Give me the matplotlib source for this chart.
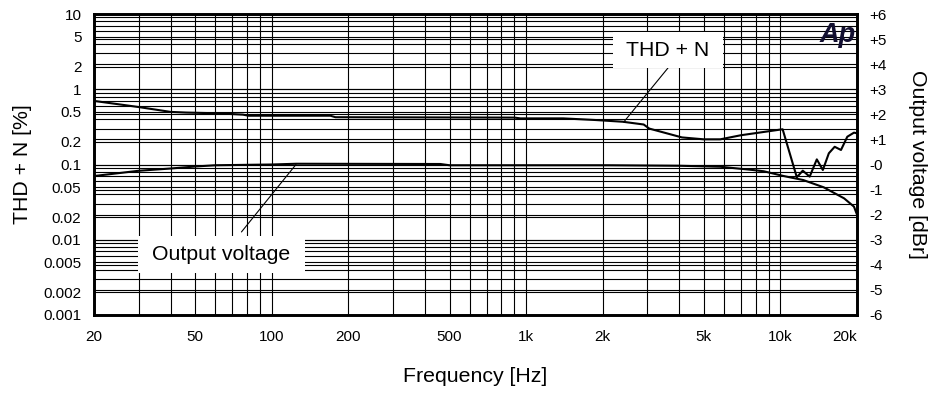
import matplotlib
matplotlib.use("Agg")
import matplotlib.pyplot as plt
from matplotlib.patches import Rectangle
from matplotlib.ticker import FixedLocator, NullFormatter, LogLocator

plt.rcParams['font.family'] = ['Liberation Sans', 'DejaVu Sans']

# =========================
# data
# =========================
thd_freq = [20, 30, 40, 46, 60, 77, 81, 170, 178, 900, 950, 1400, 1875, 2400,
            2900, 3050, 4100, 5000, 5800, 7000, 10200, 11600, 12240, 13030,
            13900, 14680, 15500, 16340, 17300, 18320, 19460, 20000]
thd_pct = [0.70, 0.58, 0.50, 0.49, 0.48, 0.46, 0.445, 0.445, 0.425, 0.42, 0.41,
           0.41, 0.39, 0.37, 0.34, 0.30, 0.229, 0.216, 0.216, 0.245, 0.294,
           0.0676, 0.0828, 0.069, 0.117, 0.0845, 0.141, 0.172, 0.156, 0.234,
           0.265, 0.26]

out_freq = [20, 30, 40, 50, 60, 100, 125, 460, 500, 2100, 4000, 5800, 7800,
            8600, 10300, 12300, 14800, 17800, 19460, 20000]
out_dbr = [-0.46, -0.25, -0.16, -0.08, -0.03, 0.0, 0.03, 0.02, -0.03, -0.03,
           -0.05, -0.09, -0.22, -0.27, -0.46, -0.62, -0.91, -1.35, -1.68, -2.0]

x_ticks = [20, 50, 100, 200, 500, 1000, 2000, 5000, 10000, 20000]
x_labels = ["20", "50", "100", "200", "500", "1k", "2k", "5k", "10k", "20k"]
thd_ticks = [10, 5, 2, 1, 0.5, 0.2, 0.1, 0.05, 0.02, 0.01, 0.005, 0.002, 0.001]
thd_labels = ["10", "5", "2", "1", "0.5", "0.2", "0.1", "0.05", "0.02", "0.01",
              "0.005", "0.002", "0.001"]
db_ticks = [6, 5, 4, 3, 2, 1, 0, -1, -2, -3, -4, -5, -6]
db_labels = ["+6", "+5", "+4", "+3", "+2", "+1", "-0", "-1", "-2", "-3", "-4",
             "-5", "-6"]

# leader lines: (label end, curve end)
thd_leader = [(3614, 1.92), (2421, 0.367)]
out_leader = [(76, 0.0127), (124.5, 0.1)]

W, H = 935, 394


def fx(px):
    return px / W


def fy(py):
    return 1 - py / H


fig = plt.figure(figsize=(W / 100, H / 100), dpi=100)
ax = fig.add_axes([fx(94), fy(315), fx(857) - fx(94), fy(14) - fy(315)])
ax2 = ax.twinx()

ax.set_xscale("log")
ax.set_yscale("log")
ax.set_xlim(20, 20000)
ax.set_ylim(0.001, 10)
ax2.set_ylim(-6, 6)

grid_kw = dict(color="black", lw=0.8)
ax.xaxis.set_minor_locator(LogLocator(base=10, subs=range(2, 10)))
ax.yaxis.set_minor_locator(LogLocator(base=10, subs=range(2, 10)))
ax.xaxis.set_minor_formatter(NullFormatter())
ax.yaxis.set_minor_formatter(NullFormatter())
ax.grid(which="both", **grid_kw)
ax2.yaxis.set_major_locator(FixedLocator(db_ticks))
ax2.grid(axis="y", **grid_kw)
ax.set_axisbelow(True)

ax.set_xticks(x_ticks)
ax.set_xticklabels(x_labels)
ax.set_yticks(thd_ticks)
ax.set_yticklabels(thd_labels)
ax2.set_yticks(db_ticks)
ax2.set_yticklabels(db_labels)
ax.get_xticklabels()[-1].set_ha("right")

ax.tick_params(which="both", length=0, labelsize=11)
ax.tick_params(axis="x", pad=11)
ax.tick_params(axis="y", pad=9)
ax2.tick_params(which="both", length=0, labelsize=11, pad=9)

for a in (ax, ax2):
    for s in a.spines.values():
        s.set_linewidth(1.9)
        s.set_color("black")

# curves
ax.plot(thd_freq, thd_pct, color="black", lw=1.5, zorder=3)
ax2.plot(out_freq, out_dbr, color="black", lw=1.5, zorder=3)

# label boxes that cover the grid
ax2.add_patch(Rectangle((fx(613), fy(68)), fx(723) - fx(613), fy(32) - fy(68),
                        transform=fig.transFigure, fc="white", ec="none",
                        zorder=5, clip_on=False))
ax2.add_patch(Rectangle((fx(138), fy(273)), fx(305) - fx(138), fy(236) - fy(273),
                        transform=fig.transFigure, fc="white", ec="none",
                        zorder=5, clip_on=False))
fig.text(fx(668), fy(51), "THD + N", fontsize=15.3, ha="center", va="center",
         zorder=6)
fig.text(fx(221), fy(255), "Output voltage", fontsize=15.3, ha="center",
         va="center", zorder=6)

ax.annotate("", xy=thd_leader[1], xytext=thd_leader[0],
            arrowprops=dict(arrowstyle="-", lw=0.8, color="black",
                            shrinkA=0, shrinkB=0))
ax.annotate("", xy=out_leader[1], xytext=out_leader[0],
            arrowprops=dict(arrowstyle="-", lw=0.8, color="black",
                            shrinkA=0, shrinkB=0))

# Ap logo
fig.text(fx(820), fy(42), "Ap", fontsize=19.5, fontweight="bold",
         fontstyle="italic", color="#120f30", ha="left", va="baseline",
         zorder=7)

ax.set_xlabel("Frequency [Hz]", fontsize=15.3, labelpad=16)
ax.set_ylabel("THD + N [%]", fontsize=15.3, labelpad=8)
ax2.set_ylabel("Output voltage [dBr]", fontsize=15.3, rotation=-90,
               labelpad=29)

plt.savefig("out.png", dpi=100)
print("saved out.png")
